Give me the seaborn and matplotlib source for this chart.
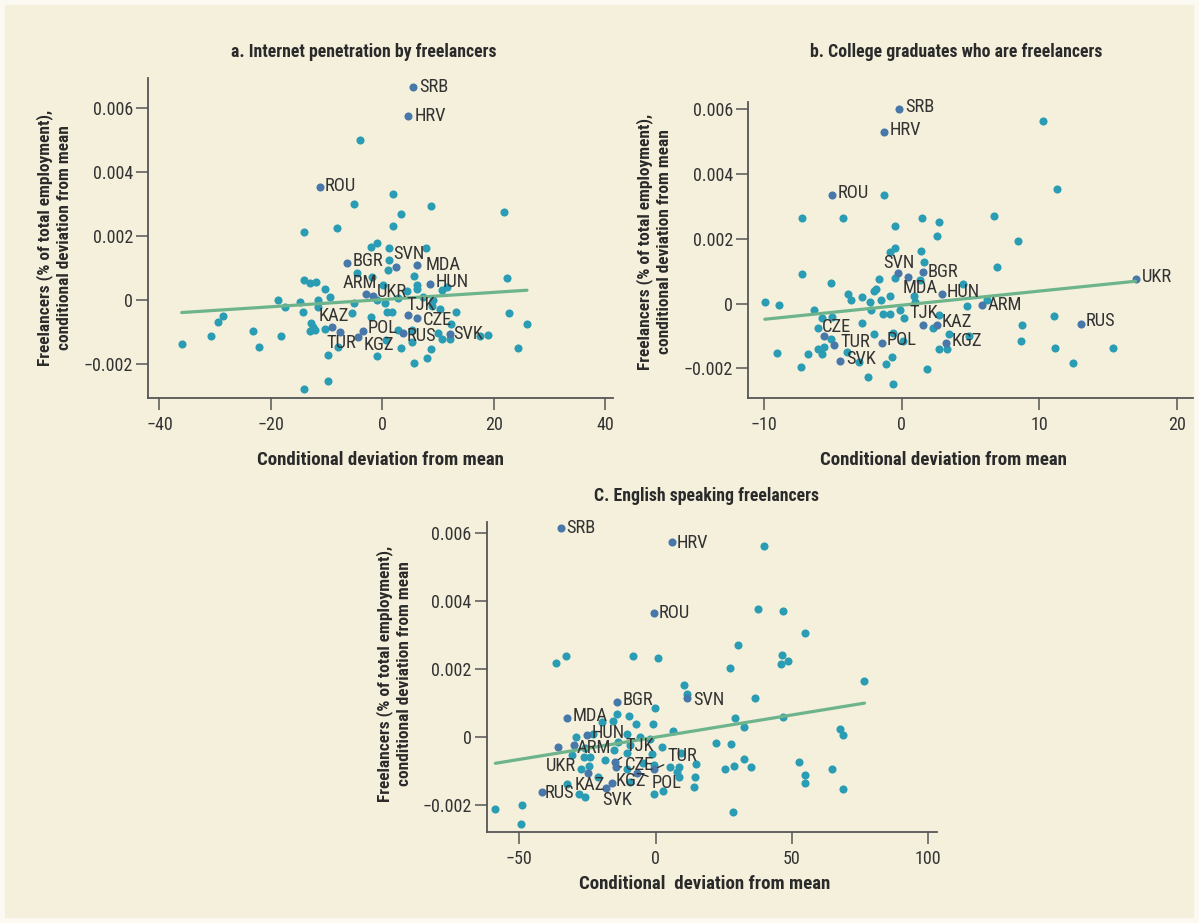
import matplotlib.pyplot as plt
import seaborn as sns
from matplotlib.patches import Rectangle
from matplotlib.ticker import FuncFormatter
from matplotlib import font_manager

# ---- panel a: internet penetration by freelancers ----
a_x = [-4.0, 1.9, -5.1, 8.8, 21.9, 3.4, -8.2, 2.0, -14.1, -0.9, -2.0, 1.3, 7.9, 1.3, 1.0,
       -4.6, 5.8, 22.5, -14.0, -13.0, -11.8, -1.9, 0.2, 6.2, 6.3, -10.2, -9.4, 4.4, -18.7,
       -14.8, -17.5, -11.5, -11.5, -5.0, -0.9, 0.5, 2.9, 7.4, 9.2, 8.9, 10.3, -28.5, -29.4,
       -14.2, -5.4, 0.8, 1.8, 13.3, 22.7, -12.8, -12.4, -12.9, -10.2, -12.1, -2.0, 12.3,
       26.0, 2.9, 5.3, 10.0, 10.7, 12.2, 17.6, 19.0, -36.0, -30.7, -23.2, -22.2, -18.1,
       -8.0, 0.6, 3.4, 5.3, 8.8, 24.3, -9.8, -0.9, 8.1, 5.7, -9.7, -14.1, 11.6, 10.7]
a_y = [0.00500, 0.00333, 0.00300, 0.00294, 0.00277, 0.00269, 0.00227, 0.00233, 0.00213,
       0.00180, 0.00166, 0.00163, 0.00163, 0.00127, 0.00093, 0.00085, 0.00075, 0.00068,
       0.00062, 0.00055, 0.00058, 0.00073, 0.00047, 0.00049, 0.00036, 0.00036, 0.00010,
       0.00029, 0.0, -0.00005, -0.00022, 0.0, -0.00021, -0.00008, 0.0, -0.00010, 0.00008,
       0.00010, 0.0, -0.00019, -0.00029, -0.00050, -0.00068, -0.00037, -0.00040, -0.00038,
       -0.00037, -0.00038, -0.00041, -0.00070, -0.00083, -0.00096, -0.00090, -0.00092,
       -0.00054, -0.00073, -0.00075, -0.00094, -0.00094, -0.00102, -0.00120, -0.00120,
       -0.00112, -0.00108, -0.00138, -0.00113, -0.00097, -0.00146, -0.00113, -0.00146,
       -0.00123, -0.00149, -0.00130, -0.00154, -0.00148, -0.00172, -0.00176, -0.00180,
       -0.00198, -0.00253, -0.00278, 0.00042, 0.00033]
a_codes = ["SRB", "HRV", "ROU", "BGR", "SVN", "MDA", "HUN", "ARM", "UKR",
           "TJK", "CZE", "KAZ", "TUR", "POL", "KGZ", "RUS", "SVK"]
a_cx = [5.6, 4.7, -11.2, -6.4, 2.5, 6.2, 8.5, -2.9, -1.6, 4.6, 6.2, -9.1, -7.6, -3.4, -4.3, 3.8, 12.1]
a_cy = [0.00668, 0.00575, 0.00354, 0.00115, 0.00104, 0.00109, 0.00052, 0.00019, 0.00012,
        -0.00047, -0.00057, -0.00083, -0.00099, -0.00096, -0.00114, -0.00104, -0.00107]
a_fit = (1.126e-5, 0.0000192)

# ---- panel b: college graduates who are freelancers ----
b_x = [10.29, 11.26, -1.26, -7.24, -4.29, 1.45, 6.71, 2.74, -0.46, 2.54, 8.43, -0.48, -0.85,
       1.43, 1.65, 6.92, -7.22, -5.16, -1.62, -0.48, 1.33, 4.48, -1.89, -1.99, -3.92, -2.88,
       -0.87, 0.87, -9.95, -8.91, -3.70, -2.30, -1.50, 0.99, 4.72, 6.17, -6.37, -2.20, -1.33,
       -0.85, -0.12, 0.17, -5.08, -5.76, -2.86, 2.69, 11.09, 8.72, -6.10, -1.99, 2.25, 3.46,
       -5.16, 8.64, -5.64, -6.10, -9.08, -6.78, -5.76, -0.61, 0.07, 2.69, 3.27, 11.16, 15.33,
       -3.12, -1.14, -0.70, -7.31, 1.86, 12.49, -2.45, -0.61, 4.87, -4.0]
b_y = [0.00565, 0.00355, 0.00335, 0.00265, 0.00264, 0.00266, 0.00270, 0.00251, 0.00240,
       0.00209, 0.00192, 0.00172, 0.00160, 0.00162, 0.00130, 0.00113, 0.00091, 0.00064,
       0.00076, 0.00080, 0.00072, 0.00060, 0.00046, 0.00039, 0.00031, 0.00021, 0.00024,
       0.00023, 0.00005, -0.00004, 0.00010, 0.00005, 0.00010, 0.00005, -0.00007, 0.00010,
       -0.00019, -0.00021, -0.00031, -0.00033, -0.00019, -0.00046, -0.00041, -0.00044,
       -0.00060, -0.00036, -0.00038, -0.00065, -0.00074, -0.00095, -0.00077, -0.00095,
       -0.00108, -0.00117, -0.00134, -0.00139, -0.00152, -0.00157, -0.00157, -0.00090,
       -0.00117, -0.00139, -0.00139, -0.00136, -0.00137, -0.00180, -0.00186, -0.00165,
       -0.00196, -0.00202, -0.00185, -0.00228, -0.00250, -0.00100, -0.00150]
b_codes = ["SRB", "HRV", "ROU", "SVN", "MDA", "BGR", "HUN", "ARM", "UKR",
           "RUS", "TJK", "KAZ", "KGZ", "CZE", "TUR", "POL", "SVK"]
b_cx = [-0.19, -1.28, -5.04, -0.24, 0.44, 1.57, 2.93, 5.84, 17.0, 13.0, 1.53, 2.54, 3.20,
        -5.64, -4.92, -1.45, -4.48]
b_cy = [0.00601, 0.00531, 0.00337, 0.00093, 0.00082, 0.00098, 0.00031, -0.00005, 0.00077,
        -0.00062, -0.00067, -0.00067, -0.00122, -0.00101, -0.00129, -0.00122, -0.00177]
b_fit = (4.36e-5, -0.0000512)

# ---- panel c: English speaking freelancers ----
c_x = [39.7, 37.4, 46.8, 54.9, 30.3, -36.5, -32.8, -8.2, 0.7, 46.4, 45.8, 48.5, 27.3, 10.3,
       11.5, 36.5, 76.6, -0.1, -9.7, -14.1, 29.2, 46.8, -0.9, -7.1, -19.6, -15.8, 6.5, 32.5,
       67.5, 68.8, -29.3, -22.9, -10.7, -5.8, -2.2, -14.0, -9.4, 2.4, 22.0, 27.5, -30.6,
       -26.4, -24.1, -18.6, -10.5, -1.2, 9.2, -24.3, -27.3, -10.7, -0.8, 5.1, 8.6, 14.9,
       25.5, 28.8, 32.4, 35.0, 52.7, 64.7, 7.7, 8.5, 14.4, 14.2, 54.6, 54.8, 68.6, -32.4,
       -28.2, -25.9, -0.7, 2.7, 28.5, -58.8, -49.0, -49.4, -21.2, -9.4, -25.8, -4.8, -15.3]
c_y = [0.00560, 0.00377, 0.00369, 0.00307, 0.00271, 0.00219, 0.00239, 0.00237, 0.00232,
       0.00241, 0.00214, 0.00223, 0.00203, 0.00152, 0.00127, 0.00115, 0.00166, 0.00085,
       0.00061, 0.00068, 0.00057, 0.00058, 0.00038, 0.00038, 0.00046, 0.00048, 0.00017,
       0.00031, 0.00024, 0.00006, 0.0, 0.00010, 0.00009, 0.0, -0.00005, -0.00013, -0.00023,
       -0.00030, -0.00016, -0.00019, -0.00053, -0.00057, -0.00057, -0.00067, -0.00047,
       -0.00049, -0.00047, -0.00083, -0.00092, -0.00094, -0.00081, -0.00086, -0.00086,
       -0.00079, -0.00093, -0.00083, -0.00065, -0.00088, -0.00074, -0.00094, -0.00101,
       -0.00118, -0.00118, -0.00145, -0.00111, -0.00134, -0.00153, -0.00138, -0.00165,
       -0.00176, -0.00167, -0.00157, -0.00220, -0.00210, -0.00198, -0.00253, -0.00116,
       -0.00130, -0.00032, -0.00076, -0.00037]
c_codes = ["SRB", "HRV", "ROU", "BGR", "SVN", "MDA", "HUN", "ARM", "UKR",
           "TJK", "CZE", "POL", "TUR", "KAZ", "KGZ", "SVK", "RUS"]
c_cx = [-34.6, 5.9, -0.8, -14.1, 11.6, -32.6, -25.3, -30.0, -35.7, -14.9, -14.6, -6.7, -0.6,
        -24.7, -15.9, -18.2, -41.8]
c_cy = [0.00613, 0.00573, 0.00364, 0.00102, 0.00115, 0.00055, 0.00007, -0.00023, -0.00029,
        -0.00072, -0.00088, -0.00104, -0.00094, -0.00106, -0.00135, -0.00150, -0.00162]
c_fit = (1.303e-5, 0.0000019)

# label offsets in pixels (dx, dy)
a_off = {"SRB": (6, 0), "HRV": (6, 0), "ROU": (5, 1), "BGR": (6, 2), "SVN": (-3, 13),
         "MDA": (9, 0), "HUN": (6, 2), "ARM": (-23, 11), "UKR": (4, 4), "TJK": (-1, 10),
         "CZE": (6, -2), "KAZ": (-13, 11), "TUR": (-13, -11), "POL": (4, 3),
         "KGZ": (5, -8), "RUS": (3, -3), "SVK": (4, 0)}
b_off = {"SRB": (6, 2), "HRV": (6, 2), "ROU": (5, 2), "SVN": (-15, 10), "BGR": (4, 0),
         "MDA": (-5, -11), "HUN": (5, 2), "ARM": (6, 0), "UKR": (6, 2), "RUS": (5, 3),
         "TJK": (-13, 12), "KAZ": (5, 3), "KGZ": (6, 2), "CZE": (-2, 9), "TUR": (6, 3),
         "POL": (5, 3), "SVK": (6, 2)}
c_off = {"SRB": (5, 0), "HRV": (5, -1), "ROU": (5, 0), "BGR": (5, 2), "SVN": (6, -2),
         "MDA": (6, 2), "HUN": (5, 2), "ARM": (3, -3), "UKR": (-13, -19), "TJK": (10, 16),
         "CZE": (9, 2), "POL": (14, -10), "TUR": (13, 13), "KAZ": (-14, -12),
         "KGZ": (3, 2), "SVK": (-4, -12), "RUS": (3, -1)}
c_leaders = {"TJK", "CZE", "POL", "TUR"}

BG = "#F4F0DC"
TEAL = "#2A9DB4"
DARK = "#4878AA"
GREEN = "#6DB48C"
INK = "#333333"

sns.set_theme(style="ticks")
# prefer a condensed face if one is installed
names = {f.name for f in font_manager.fontManager.ttflist}
narrow = [n for n in ("Liberation Sans Narrow", "DejaVu Sans Condensed", "Roboto Condensed",
                      "Open Sans Condensed") if n in names]
plt.rcParams["font.family"] = narrow + ["Liberation Sans", "DejaVu Sans"]
plt.rcParams["axes.unicode_minus"] = True
k = 1.0 if narrow else 0.9  # shrink plain Liberation Sans to keep widths close

W, H = 1199, 923
fig = plt.figure(figsize=(W / 100, H / 100), dpi=100, facecolor=BG)
fig.patches.append(Rectangle((0, 0), 1, 1, transform=fig.transFigure, fill=False,
                             edgecolor="#FBF9F1", lw=7))


def px_axes(left, top, right, bottom):
    return fig.add_axes([left / W, 1 - bottom / H, (right - left) / W, (bottom - top) / H])


def yfmt(v, pos):
    if abs(v) < 1e-12:
        return "0"
    return f"{v:.3f}".replace("-", "\u2212")


def xfmt(v, pos):
    return f"{v:g}".replace("-", "\u2212")


def draw(ax, x, y, codes, cx, cy, fit, offs, xlim, ylim, xticks, leaders=()):
    ax.set_facecolor(BG)
    sns.scatterplot(x=x, y=y, ax=ax, color=TEAL, s=34, linewidth=0, zorder=2)
    sns.scatterplot(x=cx, y=cy, ax=ax, color=DARK, s=34, linewidth=0, zorder=3)
    xs = [min(x + cx), max(x + cx)]
    sns.lineplot(x=xs, y=[fit[0] * v + fit[1] for v in xs], ax=ax, color=GREEN,
                 lw=2.3, zorder=4)
    for code, px, py in zip(codes, cx, cy):
        dx, dy = offs[code]
        arrow = None
        if code in leaders:
            arrow = dict(arrowstyle="-", color="#222222", lw=0.9, shrinkA=0, shrinkB=3)
        ax.annotate(code, (px, py), xytext=(dx, dy), textcoords="offset pixels",
                    ha="left", va="center", fontsize=13.3 * k, color=INK, zorder=5,
                    arrowprops=arrow)
    ax.set_xlim(*xlim)
    ax.set_ylim(*ylim)
    ax.set_xticks(xticks)
    ax.set_yticks([-0.002, 0, 0.002, 0.004, 0.006])
    ax.xaxis.set_major_formatter(FuncFormatter(xfmt))
    ax.yaxis.set_major_formatter(FuncFormatter(yfmt))
    sns.despine(ax=ax)
    for s in ("left", "bottom"):
        ax.spines[s].set_color("#555555")
        ax.spines[s].set_linewidth(1.3)
    ax.tick_params(axis="both", length=8.3, width=1.1, color="#555555",
                   labelsize=13 * k, labelcolor=INK)
    ax.tick_params(axis="x", pad=5)
    ax.tick_params(axis="y", pad=2.5)
    ax.set_xlabel("")
    ax.set_ylabel("")


ax_a = px_axes(148.3, 78, 613.3, 397.7)
draw(ax_a, a_x, a_y, a_codes, a_cx, a_cy, a_fit, a_off,
     (-42.0, 41.5), (-0.00305, 0.00695), [-40, -20, 0, 20, 40])

ax_b = px_axes(748.3, 101.7, 1193.3, 397.7)
draw(ax_b, b_x, b_y, b_codes, b_cx, b_cy, b_fit, b_off,
     (-11.15, 21.2), (-0.00291, 0.00624), [-10, 0, 10, 20])

ax_c = px_axes(486.7, 521.7, 936.7, 831.7)
draw(ax_c, c_x, c_y, c_codes, c_cx, c_cy, c_fit, c_off,
     (-62.0, 103.1), (-0.00277, 0.00632), [-50, 0, 50, 100], c_leaders)

ylab = "Freelancers (% of total employment),\nconditional deviation from mean"
bold = dict(fontweight="bold", color="#2a2a2a", ha="center", va="center")

fig.text(364 / W, 1 - 52 / H, "a. Internet penetration by freelancers", fontsize=12.8 * k, **bold)
fig.text(956 / W, 1 - 52 / H, "b. College graduates who are freelancers", fontsize=12.8 * k, **bold)
fig.text(706 / W, 1 - 496 / H, "C. English speaking freelancers", fontsize=12.8 * k, **bold)

fig.text(380 / W, 1 - 460 / H, "Conditional deviation from mean", fontsize=13.6 * k, **bold)
fig.text(943 / W, 1 - 460 / H, "Conditional deviation from mean", fontsize=13.6 * k, **bold)
fig.text(705 / W, 1 - 884 / H, "Conditional  deviation from mean", fontsize=13.6 * k, **bold)

for xc, yc in [(54, 238), (654, 242), (394, 674)]:
    fig.text(xc / W, 1 - yc / H, ylab, fontsize=12.5 * k, rotation=90, linespacing=1.3,
             multialignment="center", **bold)

fig.savefig("out.png", dpi=100, facecolor=BG)
